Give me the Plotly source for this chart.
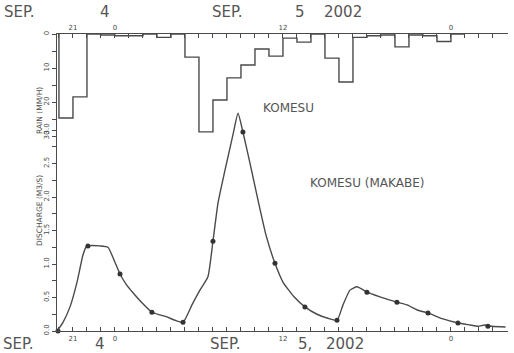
import plotly.graph_objects as go

# ---------------- data ----------------
# time in hours relative to 00:00, 5 Sep 2002
hour_ticks = list(range(-4, 28))
hour_labels = {-3: "21", 0: "0", 12: "12", 24: "0"}

# hourly rainfall (mm), first hour starts at rain_start
rain_start = -4
rain_mm = [24.7, 18.5, 0.0, 0.3, 0.5, 0.5, 0.0, 1.0, 0.0, 6.8,
           28.8, 19.4, 12.9, 9.1, 4.4, 6.5, 1.2, 2.4, 0.0, 7.1,
           14.1, 1.0, 0.5, 0.3, 3.8, 0.3, 0.5, 2.2, 0.0]

# computed discharge curve (m3/s)
q_time = [-4.14, -3.71, -3.21, -2.71, -2.29, -2.07, -1.93, -1.07, -0.5, -0.07,
          0.36, 0.79, 1.29, 1.93, 2.64, 3.21, 3.71, 4.29, 4.86, 5.5,
          6.07, 6.64, 7.0, 7.36, 7.86, 8.43, 8.79, 9.14, 9.64, 10.21,
          10.79, 11.43, 12.0, 12.79, 13.57, 14.43, 15.21, 15.86, 16.29, 16.79,
          17.29, 18.0, 18.93, 20.14, 20.86, 21.64, 22.36, 23.43, 24.5, 25.36,
          25.93, 26.43, 26.93, 27.9]
q_flow = [0.0, 0.13, 0.36, 0.73, 1.13, 1.25, 1.27, 1.27, 1.25, 1.06,
          0.85, 0.70, 0.57, 0.42, 0.28, 0.24, 0.21, 0.16, 0.13, 0.39,
          0.61, 0.81, 1.34, 1.91, 2.40, 2.93, 3.25, 2.97, 2.51, 1.96,
          1.43, 1.01, 0.73, 0.51, 0.36, 0.25, 0.19, 0.16, 0.39, 0.61,
          0.66, 0.58, 0.51, 0.43, 0.39, 0.31, 0.27, 0.18, 0.12, 0.09,
          0.07, 0.09, 0.07, 0.06]

# observed discharge points
obs_time = [-4.07, -1.93, 0.36, 2.64, 4.86, 7.0, 9.14, 11.43, 13.57, 15.86,
            18.0, 20.14, 22.36, 24.5, 26.64]
obs_flow = [0.0, 1.27, 0.85, 0.28, 0.13, 1.34, 2.97, 1.01, 0.36, 0.16,
            0.58, 0.43, 0.27, 0.12, 0.07]

q_tick_vals = [i * 0.25 for i in range(13)]
q_tick_text = [f"{v:.1f}" if i % 2 == 0 else "" for i, v in enumerate(q_tick_vals)]
rain_tick_vals = [0, 5, 10, 15, 20, 25, 30]
rain_tick_text = ["0", "", "10", "", "20", "", "30"]

label_main = "KOMESU"
label_sub = "KOMESU (MAKABE)"
label_main_pos = (12.36, 3.33)
label_sub_pos = (18.0, 2.21)

# ---------------- layout constants ----------------
W, H = 514, 353
ML, MR, MT, MB = 57, 6, 34, 22
PW, PH = W - ML - MR, H - MT - MB
PX_PER_H = 14.0
X0 = -4.14
X1 = X0 + PW / PX_PER_H
Q_MAX = PH / 67.0
R_MAX = PH / 3.4
INK = "#4a4a4a"
FONT = "DejaVu Sans"


def px(xp, yp):
    return (xp - ML) / PW, (H - MB - yp) / PH


# rainfall hyetograph outline (hv steps)
n = len(rain_mm)
rx = [rain_start] + [rain_start + i for i in range(n)] + [rain_start + n]
ry = [0.0] + rain_mm + [0.0]

fig = go.Figure()
fig.add_trace(go.Scatter(x=q_time, y=q_flow, mode="lines",
                         line=dict(color=INK, width=1.4, shape="spline", smoothing=0.5),
                         xaxis="x", yaxis="y", showlegend=False, hoverinfo="skip"))
fig.add_trace(go.Scatter(x=obs_time, y=obs_flow, mode="markers",
                         marker=dict(color="#333333", size=5, symbol="circle"),
                         xaxis="x", yaxis="y", showlegend=False, hoverinfo="skip",
                         cliponaxis=False))
fig.add_trace(go.Scatter(x=rx, y=ry, mode="lines",
                         line=dict(color=INK, width=1.4, shape="hv"),
                         xaxis="x2", yaxis="y2", showlegend=False, hoverinfo="skip"))

tick_text = [hour_labels.get(h, "") for h in hour_ticks]
xcommon = dict(range=[X0, X1], tickmode="array", tickvals=hour_ticks, ticktext=tick_text,
               ticks="inside", ticklen=4, tickcolor=INK, tickwidth=1,
               showline=True, linecolor=INK, linewidth=1.3, showgrid=False, zeroline=False,
               tickfont=dict(family=FONT, size=7, color=INK))
ycommon = dict(tickmode="array", ticks="outside", ticklen=4, tickcolor=INK, tickwidth=1,
               showline=True, linecolor=INK, linewidth=1.3, showgrid=False, zeroline=False,
               tickangle=-90, tickfont=dict(family=FONT, size=7, color=INK))

annotations = []
# axis titles
for text, yp in [("RAIN (MM/H)", 85), ("DISCHARGE (M3/S)", 248)]:
    ax, ay = px(33, yp)
    annotations.append(dict(text=text, x=ax, y=ay, xref="paper", yref="paper",
                            showarrow=False, textangle=-90,
                            font=dict(family=FONT, size=7.5, color=INK)))
# date labels
date_items = [("SEP.", 2, 12, "left"), ("4", 105, 12, "center"),
              ("SEP.", 210, 12, "left"), ("5", 300, 12, "center"), ("2002", 322, 12, "left"),
              ("SEP.", 1, 344, "left"), ("4", 100, 344, "center"),
              ("SEP.", 208, 344, "left"), ("5,", 296, 344, "left"), ("2002", 324, 344, "left")]
for text, xp, yp, anc in date_items:
    ax, ay = px(xp, yp)
    annotations.append(dict(text=text, x=ax, y=ay, xref="paper", yref="paper",
                            showarrow=False, xanchor=anc, yanchor="middle",
                            font=dict(family=FONT, size=15, color="#555555")))
# series labels
for text, (tx, ty) in [(label_main, label_main_pos), (label_sub, label_sub_pos)]:
    annotations.append(dict(text=text, x=tx, y=ty, xref="x", yref="y", showarrow=False,
                            font=dict(family=FONT, size=12, color="#555555")))

fig.update_layout(
    width=W, height=H, autosize=False,
    margin=dict(l=ML, r=MR, t=MT, b=MB, pad=0),
    paper_bgcolor="white", plot_bgcolor="white",
    showlegend=False,
    xaxis=dict(**xcommon, side="bottom", anchor="y"),
    xaxis2=dict(**xcommon, side="top", anchor="y2", overlaying="x", matches="x"),
    yaxis=dict(**ycommon, range=[0, Q_MAX], tickvals=q_tick_vals, ticktext=q_tick_text,
               side="left", anchor="x"),
    yaxis2=dict(**ycommon, range=[R_MAX, 0], tickvals=rain_tick_vals, ticktext=rain_tick_text,
                side="left", anchor="x2", overlaying="y"),
    annotations=annotations,
)

fig.write_html("out.html", config={"displayModeBar": False})
